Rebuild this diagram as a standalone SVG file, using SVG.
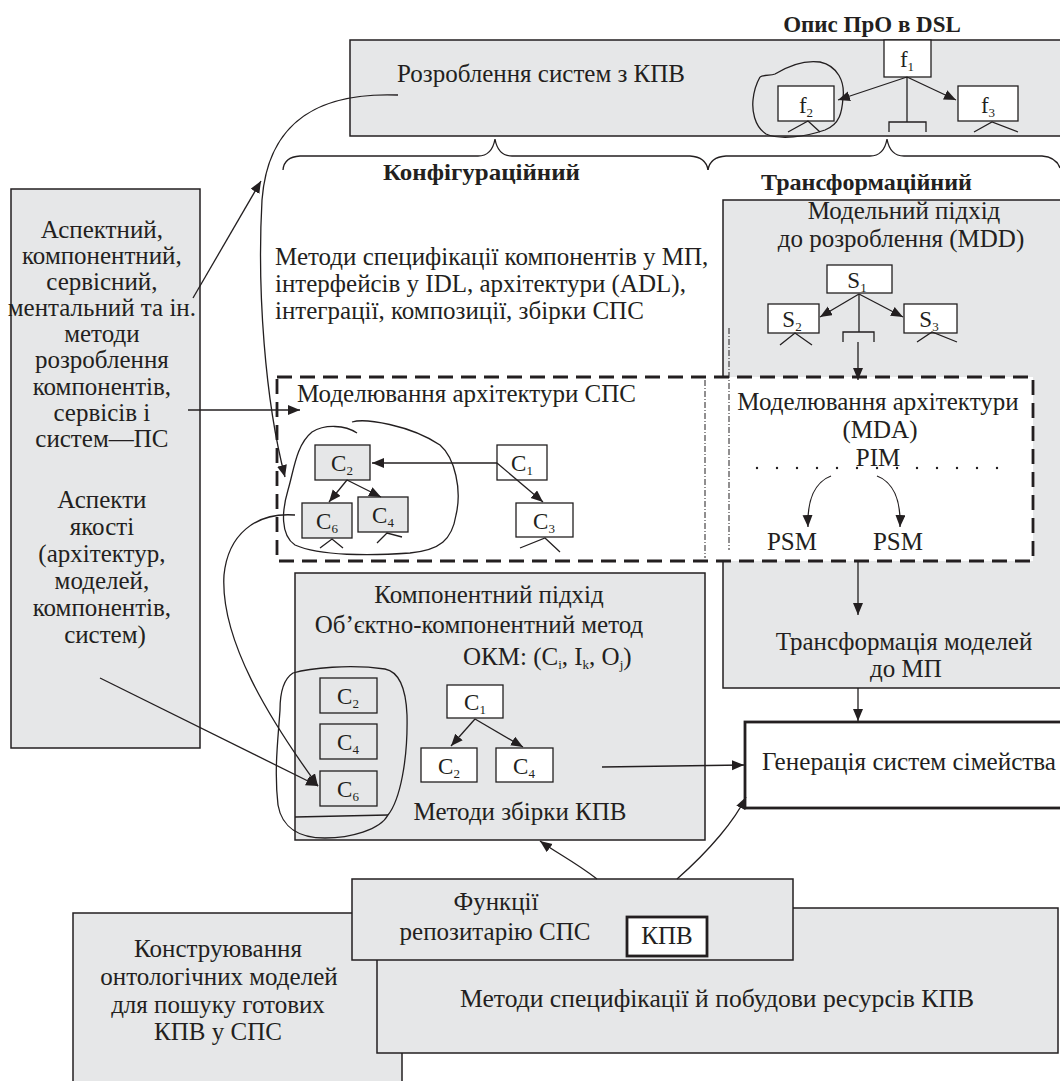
<svg xmlns="http://www.w3.org/2000/svg" width="1060" height="1081" viewBox="0 0 1060 1081" font-family="'Liberation Serif', 'DejaVu Serif', serif">
<defs>
<style>
text{font-family:'Liberation Serif','DejaVu Serif',serif}
.t{font-size:25px;fill:#231f20}
.m{text-anchor:middle}
.bd{font-weight:bold;font-size:23px}
.box{fill:#e6e7e8;stroke:#231f20;stroke-width:1.5}
.wb{fill:#fff;stroke:#231f20;stroke-width:1.3}
.gb{fill:#e6e7e8;stroke:#231f20;stroke-width:1.3}
.ln{fill:none;stroke:#231f20;stroke-width:1.3}
.arr{fill:none;stroke:#231f20;stroke-width:1.3;marker-end:url(#ah)}
.c{font-size:23px}
.s{font-size:13px}
.thick{fill:#fff;stroke:#231f20;stroke-width:2.8}
.dash{fill:#fff;stroke:#231f20;stroke-width:2.8;stroke-dasharray:15 8}
.dd{fill:none;stroke:#231f20;stroke-width:1;stroke-dasharray:6 2 1 2}
</style>
<marker id="ah" markerUnits="userSpaceOnUse" markerWidth="13" markerHeight="11" refX="12" refY="5" orient="auto"><path d="M0,0 L12,5 L0,10 z" fill="#231f20"/></marker>
</defs>
<rect width="1060" height="1081" fill="#fff"/>

<text class="t bd m" x="872" y="32">Опис ПрО в DSL</text>

<g id="top-box">
<rect class="box" x="350" y="40" width="730" height="96"/>
<text class="t" x="397" y="82">Розроблення систем з КПВ</text>
</g>
<g id="f1"><rect class="wb" x="884" y="40" width="47" height="37"/><text class="t c m" x="907" y="67">f<tspan class="s" dy="4">1</tspan></text>
<path class="ln" d="M889,132 L889,122 L926,122 L926,132"/></g>
<g id="f2"><rect class="wb" x="778" y="86" width="56" height="35"/><text class="t c m" x="806" y="113">f<tspan class="s" dy="4">2</tspan></text>
<path class="ln" d="M788,132 L808,121 L820,132"/></g>
<g id="f3"><rect class="wb" x="958" y="86" width="60" height="35"/><text class="t c m" x="988" y="113">f<tspan class="s" dy="4">3</tspan></text>
<path class="ln" d="M974,132 L992,122 L1018,132"/></g>
<g id="f2-circle"><path class="ln" d="M760,77 C766,74 770,76 775,74 C788,66 805,60 820,62 C838,66 845,82 843,98 C842,112 840,124 825,130 C805,137 780,140 766,134 C754,126 752,110 753,100 C754,90 756,84 760,77"/></g>

<g id="braces">
<path class="ln" d="M283,170 Q284,157 300,156 L478,156 Q492,156 495,139 Q498,156 512,156 L690,156 Q706,157 708,170"/>
<path class="ln" d="M708,170 Q710,157 726,156 L870,156 Q884,156 887,139 Q890,156 904,156 L1042,156 Q1056,157 1060,168"/>
</g>
<text class="t bd" x="383" y="180" textLength="197" lengthAdjust="spacingAndGlyphs">Конфігураційний</text>
<text class="t bd" x="761" y="190" textLength="211" lengthAdjust="spacingAndGlyphs">Трансформаційний</text>

<g id="left-box">
<rect class="box" x="11" y="189" width="189" height="559"/>
<text class="t m" x="105">
<tspan x="105" y="238">Аспектний,</tspan>
<tspan x="105" y="264">компонентний,</tspan>
<tspan x="105" y="290">сервісний,</tspan>
<tspan x="105" y="316">ментальний та ін.</tspan>
<tspan x="105" y="342">методи</tspan>
<tspan x="105" y="368">розроблення</tspan>
<tspan x="105" y="395">компонентів,</tspan>
<tspan x="105" y="421">сервісів і</tspan>
<tspan x="105" y="447">систем—ПС</tspan>
<tspan x="105" y="508">Аспекти</tspan>
<tspan x="105" y="535">якості</tspan>
<tspan x="105" y="562">(архітектур,</tspan>
<tspan x="105" y="589">моделей,</tspan>
<tspan x="105" y="616">компонентів,</tspan>
<tspan x="105" y="643">систем)</tspan>
</text>
</g>

<g id="methods-text">
<text class="t" x="275" y="265">Методи специфікації компонентів у МП,</text>
<text class="t" x="275" y="292">інтерфейсів у IDL, архітектури (ADL),</text>
<text class="t" x="275" y="319">інтеграції, композиції, збірки СПС</text>
</g>

<g id="mdd-box">
<rect class="box" x="723" y="200" width="357" height="488"/>
<text class="t m" x="904" y="219">Модельний підхід</text>
<text class="t m" x="901" y="247">до розроблення (MDD)</text>
<text class="t m" x="904" y="650">Трансформація моделей</text>
<text class="t m" x="906" y="677">до МП</text>
</g>
<g id="s1"><rect class="wb" x="827" y="265" width="65" height="28"/><text class="t c m" x="857" y="288">S<tspan class="s" dy="4">1</tspan></text>
<path class="ln" d="M843,342 L843,332 L874,332 L874,342"/></g>
<g id="s2"><rect class="wb" x="768" y="304" width="51" height="29"/><text class="t c m" x="792" y="327">S<tspan class="s" dy="4">2</tspan></text>
<path class="ln" d="M780,345 L795,333 L812,345"/></g>
<g id="s3"><rect class="wb" x="904" y="304" width="53" height="29"/><text class="t c m" x="929" y="327">S<tspan class="s" dy="4">3</tspan></text>
<path class="ln" d="M917,342 L932,332 L957,342"/></g>

<g id="modeling-area">
<rect class="dash" x="277" y="377" width="756" height="184"/>
<path class="dd" d="M705,380 L705,558"/>
<path class="dd" d="M729,328 L729,550"/>
<text class="t" x="297" y="402">Моделювання архітектури СПС</text>
<text class="t m" x="878" y="410">Моделювання архітектури</text>
<text class="t m" x="880" y="438">(MDA)</text>
<text class="t m" x="878" y="466">PIM</text>
<path d="M757,468 L1000,468" fill="none" stroke="#231f20" stroke-width="2.4" stroke-linecap="round" stroke-dasharray="0 20"/>
<text class="t m" x="792" y="550">PSM</text>
<text class="t m" x="898" y="550">PSM</text>
</g>

<g id="upper-lasso"><path class="ln" stroke-width="2" d="M352,422 C365,418 410,425 440,445 C455,458 462,490 456,515 C452,540 440,550 410,553 C370,556 320,556 295,545 C280,535 282,510 288,490 C294,470 296,445 312,432 C325,424 345,425 357,433"/></g>
<g id="c2-top"><rect class="gb" x="315" y="445" width="55" height="35"/><text class="t c m" x="342" y="471">C<tspan class="s" dy="4">2</tspan></text></g>
<g id="c6-top"><rect class="gb" x="302" y="503" width="50" height="35"/><text class="t c m" x="327" y="529">C<tspan class="s" dy="4">6</tspan></text>
<path class="ln" d="M320,548 L332,539 L343,548"/></g>
<g id="c4-top"><rect class="gb" x="358" y="497" width="50" height="35"/><text class="t c m" x="383" y="523">C<tspan class="s" dy="4">4</tspan></text>
<path class="ln" d="M377,543 L387,533 L402,537"/></g>
<g id="c1-top"><rect class="wb" x="497" y="445" width="50" height="35"/><text class="t c m" x="522" y="471">C<tspan class="s" dy="4">1</tspan></text></g>
<g id="c3-top"><rect class="wb" x="516" y="503" width="57" height="34"/><text class="t c m" x="544" y="529">C<tspan class="s" dy="4">3</tspan></text>
<path class="ln" d="M520,548 L545,538 L560,552"/></g>

<g id="component-box">
<rect class="box" x="295" y="573" width="410" height="267"/>
<text class="t m" x="489" y="603">Компонентний підхід</text>
<text class="t m" x="479" y="633">Об’єктно-компонентний метод</text>
<text class="t" x="463" y="665">ОКМ: (C<tspan class="s" dy="4">i</tspan><tspan dy="-4">, I</tspan><tspan class="s" dy="4">k</tspan><tspan dy="-4">, O</tspan><tspan class="s" dy="4">j</tspan><tspan dy="-4">)</tspan></text>
<text class="t m" x="520" y="820">Методи збірки КПВ</text>
</g>
<g id="lower-lasso"><path class="ln" fill="#fff" d="M388,815 C400,800 408,760 407,715 C406,690 400,672 385,669 C350,664 310,668 293,673 C282,680 280,695 280,710 C278,740 274,770 278,805 C282,828 300,838 325,838 C350,838 380,830 388,815 Z"/>
<path class="ln" d="M295,817 L388,815"/></g>
<g id="c2-low"><rect class="gb" x="320" y="678" width="57" height="35"/><text class="t c m" x="348" y="704">C<tspan class="s" dy="4">2</tspan></text></g>
<g id="c4-low"><rect class="gb" x="320" y="724" width="57" height="35"/><text class="t c m" x="348" y="750">C<tspan class="s" dy="4">4</tspan></text></g>
<g id="c6-low"><rect class="gb" x="320" y="771" width="57" height="35"/><text class="t c m" x="348" y="797">C<tspan class="s" dy="4">6</tspan></text></g>
<g id="c1-low"><rect class="wb" x="447" y="685" width="56" height="33"/><text class="t c m" x="475" y="710">C<tspan class="s" dy="4">1</tspan></text></g>
<g id="c2-low2"><rect class="wb" x="421" y="748" width="56" height="34"/><text class="t c m" x="449" y="774">C<tspan class="s" dy="4">2</tspan></text></g>
<g id="c4-low2"><rect class="wb" x="496" y="748" width="57" height="34"/><text class="t c m" x="524" y="774">C<tspan class="s" dy="4">4</tspan></text></g>

<g id="generation">
<rect class="thick" x="745" y="722" width="330" height="86"/>
<text class="t" x="762" y="770" textLength="294" lengthAdjust="spacingAndGlyphs">Генерація систем сімейства</text>
</g>

<g id="ontology-box">
<rect class="box" x="73" y="913" width="329" height="180"/>
<text class="t m" x="218" y="957">Конструювання</text>
<text class="t m" x="219" y="985">онтологічних моделей</text>
<text class="t m" x="218" y="1013">для пошуку готових</text>
<text class="t m" x="218" y="1040">КПВ у СПС</text>
</g>
<g id="resources-box">
<rect class="box" x="377" y="908" width="681" height="145"/>
<text class="t m" x="717" y="1007" textLength="514" lengthAdjust="spacingAndGlyphs">Методи специфікації й побудови ресурсів КПВ</text>
</g>
<g id="repository-box">
<rect class="box" x="352" y="879" width="441" height="81"/>
<text class="t m" x="496" y="910">Функції</text>
<text class="t m" x="495" y="940">репозитарію СПС</text>
</g>
<g id="kpv"><rect class="thick" x="627" y="917" width="80" height="39"/><text class="t m" x="667" y="944">КПВ</text></g>

<g id="connectors">
<path class="arr" d="M907,77 L838,100"/>
<path class="arr" d="M907,77 L956,100"/>
<path class="ln" d="M907,77 L907,122"/>
<path class="arr" d="M859,294 L820,317"/>
<path class="arr" d="M859,294 L903,317"/>
<path class="ln" d="M859,294 L859,332"/>
<path class="arr" d="M858,342 L858,380"/>
<path class="arr" d="M831,476 C815,482 807,500 808,527"/>
<path class="arr" d="M877,476 C893,482 901,500 900,527"/>
<path class="arr" d="M858,562 L858,615"/>
<path class="arr" d="M858,688 L858,721"/>
<path class="arr" d="M398,95 C320,92 268,120 262,200 C257,290 265,400 285,477"/>
<path class="arr" d="M193,298 L261,181"/>
<path class="arr" d="M188,410 L300,410"/>
<path class="arr" d="M100,678 L318,786"/>
<path class="arr" d="M295,515 C255,512 228,535 224,575 C220,640 270,720 318,786"/>
<path class="arr" d="M497,463 L372,463"/>
<path class="arr" d="M497,463 L543,502"/>
<path class="arr" d="M347,480 L329,502"/>
<path class="arr" d="M347,480 L381,497"/>
<path class="arr" d="M475,719 L451,746"/>
<path class="arr" d="M475,719 L523,747"/>
<path class="arr" d="M602,767 L744,765"/>
<path class="arr" d="M677,879 C710,850 735,820 746,797"/>
<path class="arr" d="M597,879 C575,862 555,852 540,841"/>
</g>
</svg>
